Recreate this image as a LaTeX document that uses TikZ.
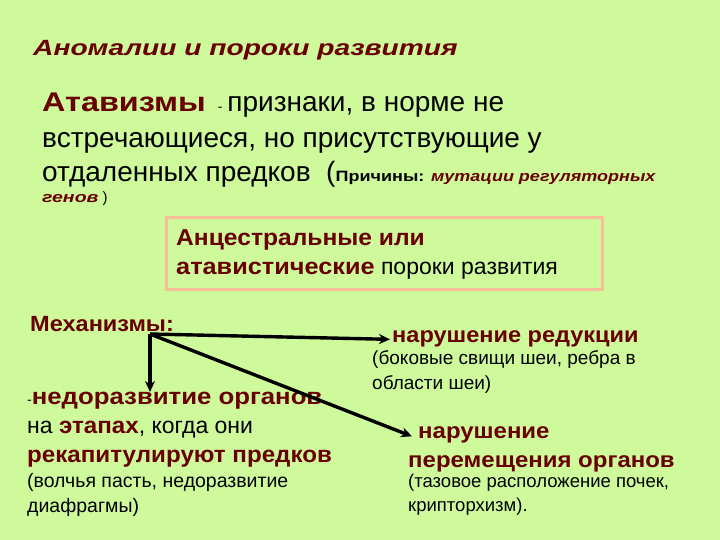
\documentclass[tikz,border=0pt]{standalone}
\usepackage{fontspec}
\setmainfont{Liberation Sans}
\usetikzlibrary{arrows.meta}
\definecolor{bgreen}{RGB}{206,250,156}
\definecolor{dred}{RGB}{104,0,0}
\definecolor{peach}{RGB}{250,190,150}
\newcommand{\fs}[1]{\fontsize{#1}{#1}\selectfont}
% bold dark red, a bit wider than the plain face
\newcommand{\hl}[2][1.1]{{\bfseries\addfontfeature{FakeStretch=#1}\color{dred}#2}}
\begin{document}
\begin{tikzpicture}
	[x=1pt,y=-1pt,
	 txt/.style={anchor=base west,inner sep=0pt,text=black},
	 mech/.style={line width=3.4pt,-{Stealth[length=11pt,width=10pt]}}]
\fill[bgreen] (0,0) rectangle (720,540);
\useasboundingbox (0,0) rectangle (720,540);
% header and definition
\node[txt] (title) at (33,56) {\fs{22}\hl[1.28]{\itshape Аномалии и пороки развития}};
\node[txt] (def1) at (42,112) {\fs{27}\hl[1.2]{Атавизмы}\hspace{12pt}{\fs{14}-}\hspace{5pt}\fs{28}признаки, в норме не};
\node[txt] (def2) at (42,148) {\fs{28}встречающиеся, но присутствующие у};
\node[txt] (def3) at (42,182) {\fs{28}отдаленных предков \ (\fs{15}\textbf{\addfontfeature{FakeStretch=1.2}Причины: \textit{\color{dred}мутации регуляторных}}};
\node[txt] (def4) at (42,203) {\fs{15}\hl[1.3]{\itshape генов} )};
% framed box
\draw[peach,line width=3pt] (166,218) rectangle (602,289);
\node[txt] (anc1) at (176,245) {\fs{23}\hl[1.07]{Анцестральные или}};
\node[txt] (anc2) at (176,274) {\fs{23}\hl[1.1]{атавистические} пороки развития};
% mechanisms
\node[txt] (mech) at (30,331) {\fs{22}\hl[1.07]{Механизмы:}};
\coordinate (hub) at (150,334);
\node[txt] (redu) at (392,342) {\fs{22}\hl[1.07]{нарушение редукции}};
\node[txt] (redu1) at (372,364) {\fs{19}(боковые свищи шеи, ребра в};
\node[txt] (redu2) at (372,389) {\fs{19}области шеи)};
\node[txt] (under) at (27,404) {\fs{14}-\fs{23}\hl[1.12]{недоразвитие органов}};
\node[txt] (under1) at (27,433) {\fs{23}на \hl[1.05]{этапах}, когда они};
\node[txt] (under2) at (27,462) {\fs{23}\hl[1.05]{рекапитулируют предков}};
\node[txt] (under3) at (27,487) {\fs{19.5}(волчья пасть, недоразвитие};
\node[txt] (under4) at (27,512) {\fs{19.5}диафрагмы)};
\node[txt] (move) at (418,438) {\fs{22}\hl[1.09]{нарушение}};
\node[txt] (move1) at (408,467) {\fs{22}\hl[1.09]{перемещения органов}};
\node[txt] (move2) at (408,487) {\fs{18.5}(тазовое расположение почек,};
\node[txt] (move3) at (408,511) {\fs{18.5}крипторхизм).};
\draw[mech] (hub) -- ([xshift=-2pt,yshift=-1pt]redu.west);
\draw[mech] (hub) -- (150,392);
\draw[mech] (hub) -- ([xshift=-6pt,yshift=-2pt]move.west);
\end{tikzpicture}
\end{document}
